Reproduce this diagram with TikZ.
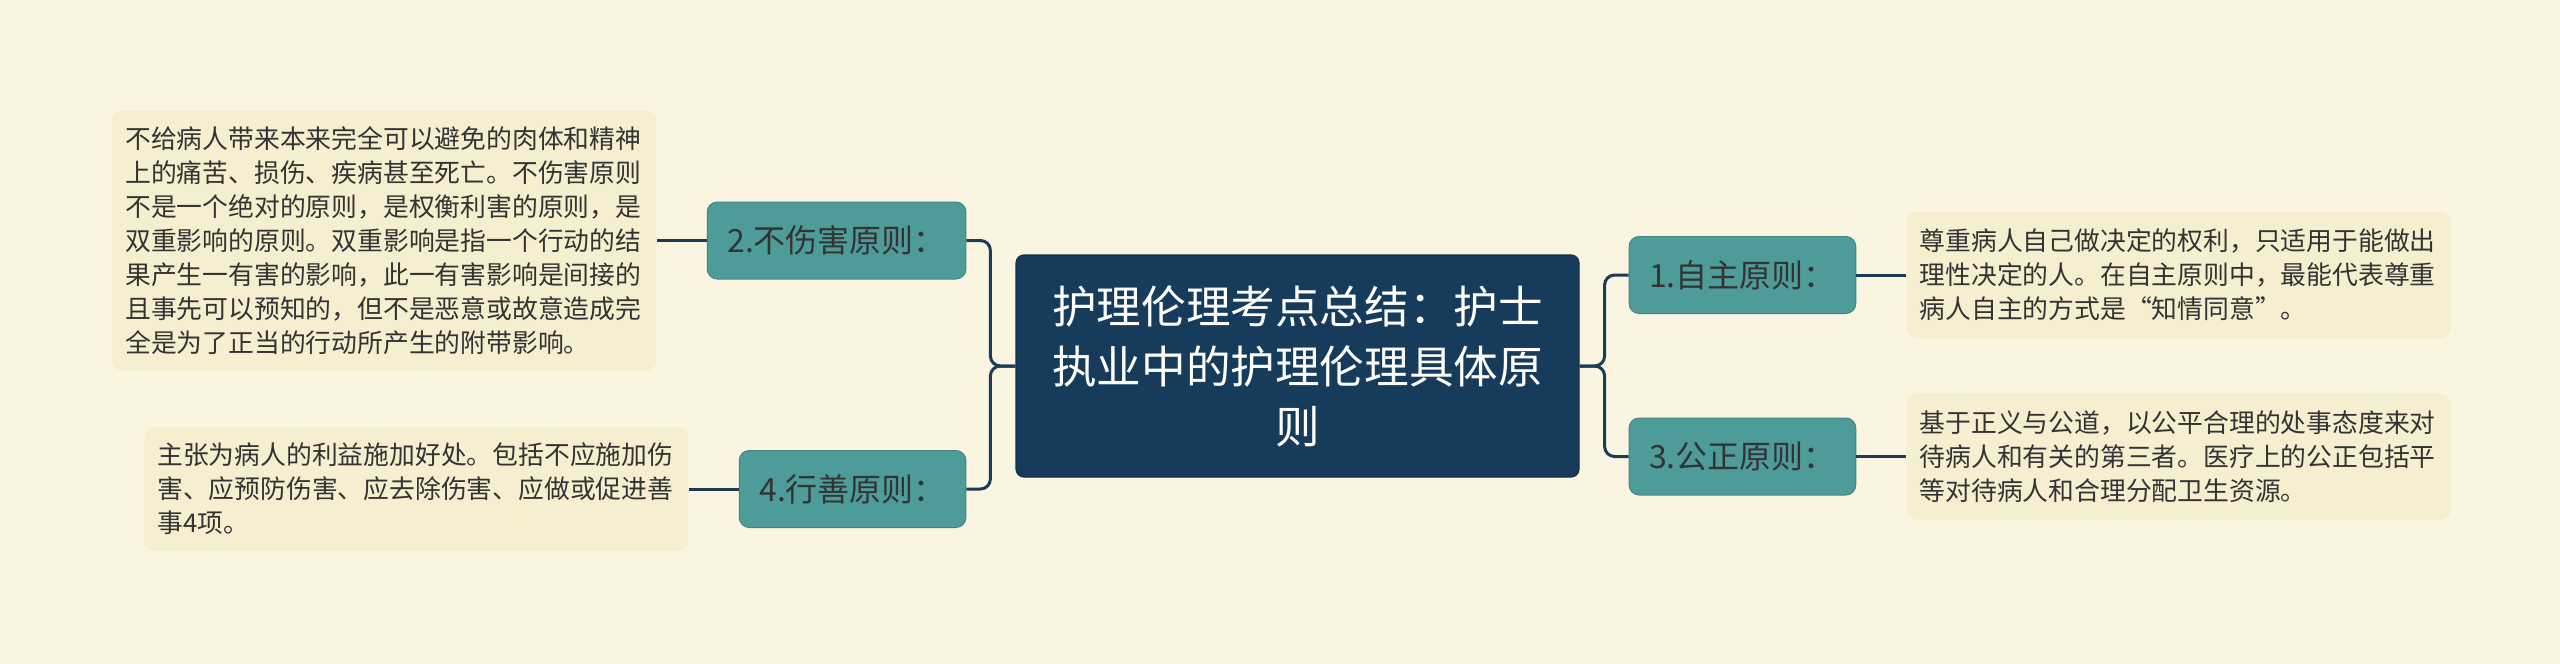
\documentclass[tikz,border=0pt]{standalone}
\usepackage{fontspec}
\setmainfont{Noto Sans CJK SC}
\usetikzlibrary{positioning}
\definecolor{bgcream}{HTML}{FAF5E0}
\definecolor{leafcream}{HTML}{F5EFD0}
\definecolor{branchteal}{HTML}{4E9C9A}
\definecolor{rootnavy}{HTML}{173C5B}
\definecolor{linknavy}{HTML}{1C3B58}
\definecolor{textgray}{HTML}{333333}

\begin{document}
\begin{tikzpicture}[node distance=25pt]
        \tikzstyle{rootbox} = [rectangle, rounded corners=4pt, fill=rootnavy, draw=rootnavy!80!black, line width=0.6pt, text=white, minimum width=281.5pt, minimum height=111pt, align=center, font=\fontsize{22.3}{30}\selectfont]
        \tikzstyle{branchbox} = [rectangle, rounded corners=5pt, fill=branchteal, draw=branchteal!85!black, line width=0.5pt, text=textgray, inner xsep=10pt, minimum height=38.5pt, font=\fontsize{16}{20}\selectfont]
        \tikzstyle{leafbox} = [rectangle, rounded corners=5pt, fill=leafcream, text=textgray, text width=259pt, inner xsep=6.5pt, align=left, font=\fontsize{12.9}{17}\selectfont]
        \tikzstyle{link} = [line width=1.5pt, draw=linknavy, rounded corners=5pt]

        \fill[bgcream] (0,0) rectangle (1280pt,-332pt);
        \useasboundingbox (0,0) rectangle (1280pt,-332pt);

        \node (root) [rootbox] at (648.75pt,-183pt) {护理伦理考点总结：护士\\执业中的护理伦理具体原\\则};

        % left side
        \node (harm) [branchbox, left=24.5pt of root, yshift=62.75pt] {2.不伤害原则：};
        \node (good) [branchbox, left=24.5pt of root, yshift=-61.5pt] {4.行善原则：};
        \node (harmtext) [leafbox, left=of harm, minimum height=130pt] {不给病人带来本来完全可以避免的肉体和精神\\上的痛苦、损伤、疾病甚至死亡。不伤害原则\\不是一个绝对的原则，是权衡利害的原则，是\\双重影响的原则。双重影响是指一个行动的结\\果产生一有害的影响，此一有害影响是间接的\\且事先可以预知的，但不是恶意或故意造成完\\全是为了正当的行动所产生的附带影响。};
        \node (goodtext) [leafbox, left=of good, minimum height=62pt] {主张为病人的利益施加好处。包括不应施加伤\\害、应预防伤害、应去除伤害、应做或促进善\\事4项。};

        % right side
        \node (auto) [branchbox, right=24.5pt of root, yshift=45.5pt] {1.自主原则：};
        \node (just) [branchbox, right=24.5pt of root, yshift=-45.25pt] {3.公正原则：};
        \node (autotext) [leafbox, right=of auto, minimum height=63pt] {尊重病人自己做决定的权利，只适用于能做出\\理性决定的人。在自主原则中，最能代表尊重\\病人自主的方式是“知情同意”。};
        \node (justtext) [leafbox, right=of just, minimum height=63pt] {基于正义与公道，以公平合理的处事态度来对\\待病人和有关的第三者。医疗上的公正包括平\\等对待病人和合理分配卫生资源。};

        \draw[link] (root.west) -- ++(-12.5pt,0) |- (harm.east);
        \draw[link] (root.west) -- ++(-12.5pt,0) |- (good.east);
        \draw[link] (root.east) -- ++(12.5pt,0) |- (auto.west);
        \draw[link] (root.east) -- ++(12.5pt,0) |- (just.west);
        \draw[link] (harm.west) -- (harmtext.east);
        \draw[link] (good.west) -- (goodtext.east);
        \draw[link] (auto.east) -- (autotext.west);
        \draw[link] (just.east) -- (justtext.west);

    \end{tikzpicture}
\end{document}
